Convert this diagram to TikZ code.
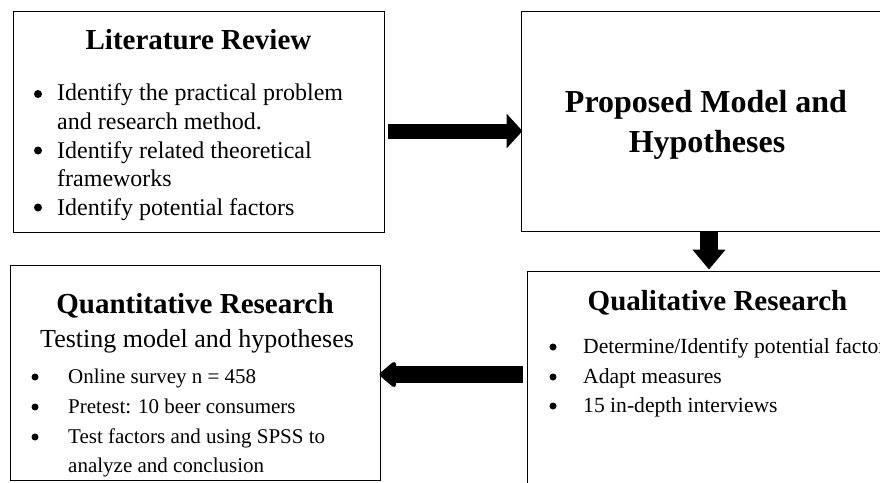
\documentclass[tikz,border=0pt]{standalone}
\usepackage{fontspec}
\setmainfont{Liberation Serif}
\usetikzlibrary{arrows.meta}

\begin{document}
\begin{tikzpicture}[x=1pt,y=-1pt,
    box/.style={draw,line width=1pt,rectangle,inner sep=0pt},
    dot/.style={circle,fill,inner sep=0pt,minimum size=7pt},
    head/.style={font=\fontsize{29}{34}\selectfont\bfseries},
    bighead/.style={font=\fontsize{32}{38}\selectfont\bfseries},
    txt/.style={font=\fontsize{24}{28}\selectfont},
    small/.style={font=\fontsize{21}{25}\selectfont},
    smallq/.style={font=\fontsize{21.6}{25}\selectfont},
    fatarrow/.style={draw,line width=15pt,-{Triangle[width=34pt,length=16pt]}}]

  \useasboundingbox (0,0) rectangle (880,482);
  \clip (0,0) rectangle (880,482);

  % the four boxes
  \begin{scope}[every node/.style={box}]
    \node (lit)   at (198.5,121.5) [minimum width=371pt,minimum height=221pt] {};
    \node (model) at (709,121)     [minimum width=376pt,minimum height=220pt] {};
    \node (quant) at (195,372.5)   [minimum width=370pt,minimum height=215pt] {};
    \node (qual)  at (715,385.5)   [minimum width=376pt,minimum height=229pt] {};
  \end{scope}

  \begin{scope}[every node/.style={inner sep=0pt,anchor=base}]
    \node[head] (lithead)   at (198.5,49) {Literature Review};
    \node[bighead] (model1) at (706,112) {Proposed Model and};
    \node[bighead] (model2) at (707,152) {Hypotheses};
    \node[head] (quanthead) at (195,313) {Quantitative Research};
    \node[head] (qualhead)  at (717.5,310) {Qualitative Research};
  \end{scope}

  % bullets
  \node[dot,minimum size=8pt] (b1) at (38,94) {};
  \node[dot,minimum size=8pt] (b2) at (38,150.5) {};
  \node[dot,minimum size=8pt] (b3) at (38,207.5) {};
  \node[dot] (b4) at (35,377) {};
  \node[dot] (b5) at (35,407) {};
  \node[dot] (b6) at (35,437) {};
  \node[dot] (b7) at (553,347) {};
  \node[dot] (b8) at (553,377) {};
  \node[dot] (b9) at (553,406) {};

  % bullet texts
  \begin{scope}[every node/.style={inner sep=0pt,anchor=base west}]
    \node[txt] (l1)  at (57,100.5) {Identify the practical problem};
    \node[txt] (l2)  at (57,129) {and research method.};
    \node[txt] (l3)  at (57,158) {Identify related theoretical};
    \node[txt] (l4)  at (57,186.5) {frameworks};
    \node[txt] (l5)  at (57,215) {Identify potential factors};

    \node[font=\fontsize{26}{30}\selectfont] (test) at (40,347) {Testing model and hypotheses};
    \node[small] (q1) at (68,383) {Online survey n = 458};
    \node[small] (q2) at (68,413) {Pretest: 10 beer consumers};
    \node[small] (q3) at (68,443) {Test factors and using SPSS to};
    \node[small] (q4) at (68,472) {analyze and conclusion};

    \node[smallq] (r1) at (583,353) {Determine/Identify potential factors};
    \node[smallq] (r2) at (583,383) {Adapt measures};
    \node[smallq] (r3) at (583,412) {15 in-depth interviews};
  \end{scope}

  % arrows between the steps
  \draw[fatarrow,shorten <=3pt,shorten >=-2pt]
    ([yshift=-9.5pt]lit.east) -- ([yshift=-9.5pt]lit.east -| model.west);
  \draw[fatarrow,line width=18pt,-{Triangle[width=32pt,length=20pt]},shorten >=1pt]
    (model.south) -- (model.south |- qual.north);
  \draw[fatarrow,line width=17pt,line join=round,-{Triangle[width=29pt,length=18pt,round]},shorten <=4pt,shorten >=-1pt]
    ([yshift=11pt]qual.west) -- ([yshift=11pt]qual.west -| quant.east);

\end{tikzpicture}
\end{document}
